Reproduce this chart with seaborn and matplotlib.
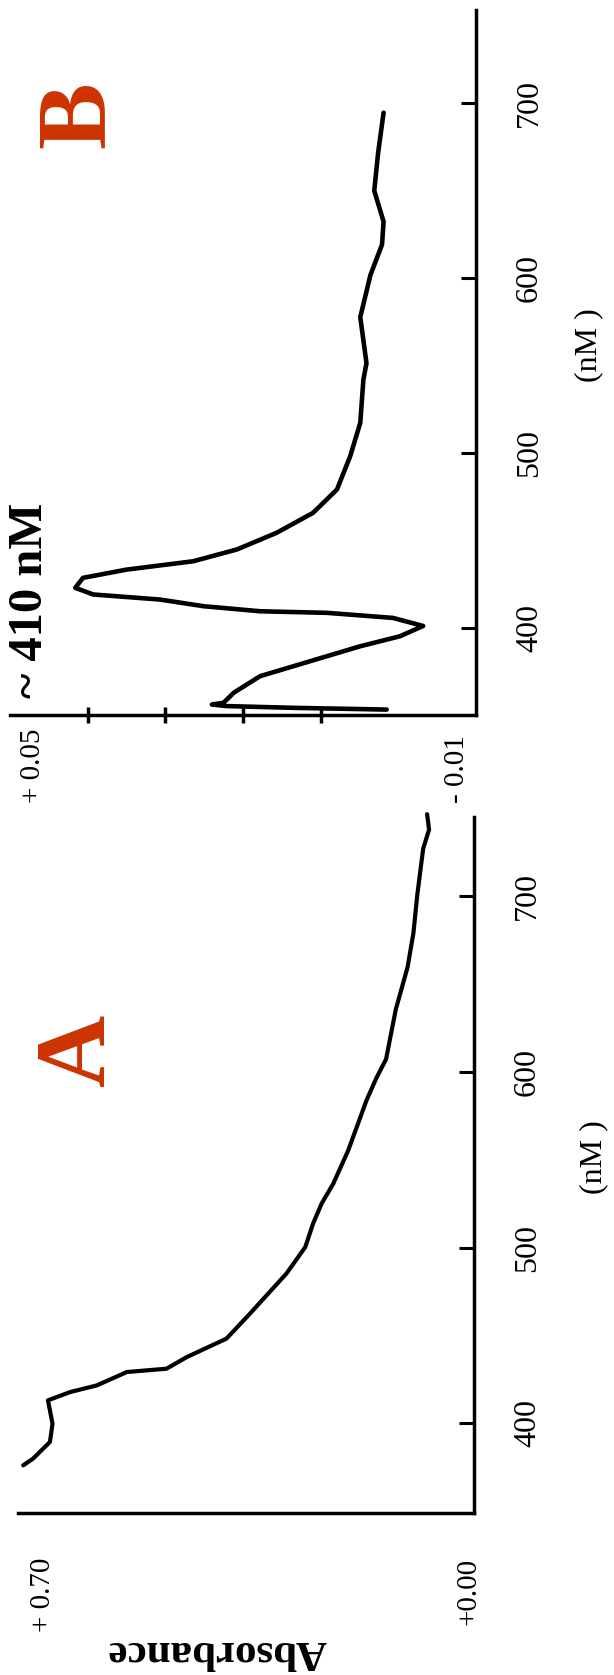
import matplotlib
matplotlib.use('Agg')  # no display

import pandas as pd
import matplotlib.pyplot as plt
import seaborn as sns

# The figure is drawn turned a quarter turn: wavelength runs up the page,
# absorbance runs right-to-left.

# Panel A: broad spectrum (wavelength in nm, absorbance)
wl_a = [376.1, 379.9, 389.4, 399.8, 413.1, 417.8, 421.6, 429.2, 431.1, 437.7,
        448.2, 462.4, 485.2, 500.3, 513.7, 525.0, 536.4, 555.4, 583.8, 596.4,
        607.2, 635.6, 659.5, 679.0, 700.9, 727.0, 737.8, 746.6]
abs_a = [0.692, 0.677, 0.651, 0.647, 0.654, 0.620, 0.579, 0.533, 0.472, 0.441,
         0.380, 0.344, 0.288, 0.259, 0.247, 0.234, 0.216, 0.193, 0.165, 0.150,
         0.135, 0.120, 0.102, 0.093, 0.087, 0.078, 0.069, 0.072]

# Panel B: difference spectrum with the ~410 nm band
wl_b = [694.3, 671.4, 649.7, 632.0, 618.9, 601.4, 577.4, 551.1, 541.7, 517.0,
        497.9, 478.9, 465.5, 454.1, 444.6, 437.9, 433.1, 428.4, 422.7, 418.9,
        416.0, 412.2, 409.3, 408.4, 405.5, 400.9, 395.0, 389.3, 377.9, 372.2,
        362.7, 357.0, 356.0, 355.1, 354.1, 353.1]
abs_b = [0.0019, 0.0026, 0.0031, 0.0019, 0.0021, 0.0036, 0.0049, 0.0041,
         0.0045, 0.0049, 0.0062, 0.0079, 0.0110, 0.0157, 0.0208, 0.0264,
         0.0350, 0.0406, 0.0416, 0.0393, 0.0307, 0.0251, 0.0178, 0.0092,
         0.0007, -0.0032, -0.0002, 0.0049, 0.0135, 0.0178, 0.0212, 0.0225,
         0.0240, 0.0221, 0.0135, 0.0015]

wl_ticks = [400, 500, 600, 700]
b_ticks = [0.01, 0.02, 0.03, 0.04]

sns.set_theme(style='white')
plt.rcParams['font.family'] = ['Liberation Serif', 'DejaVu Serif']
plt.rcParams.update({
    'text.color': 'black',
    'axes.labelcolor': 'black',
    'xtick.color': 'black',
    'ytick.color': 'black',
})

RED = '#cc3300'
W, H = 614, 1675
fig = plt.figure(figsize=(W / 100, H / 100), dpi=100, facecolor='white')


def px_axes(left, top, right, bottom):
    """Add axes given in pixel coordinates of the page."""
    return fig.add_axes([left / W, 1 - bottom / H, (right - left) / W, (bottom - top) / H])


def style_panel(ax, xlim, ylim):
    ax.set_xlim(*xlim)
    ax.set_ylim(*ylim)
    ax.set_facecolor('none')
    for side in ['top', 'left']:
        ax.spines[side].set_visible(False)
    for side in ['bottom', 'right']:
        ax.spines[side].set_visible(True)
        ax.spines[side].set_color('black')
        ax.spines[side].set_linewidth(2.5)
    ax.yaxis.tick_right()
    ax.set_yticks(wl_ticks)
    ax.set_yticklabels([str(t) for t in wl_ticks])
    ax.tick_params(axis='y', left=False, right=True, direction='in', length=11,
                   width=2.2, pad=28, labelsize=23, labelrotation=90, colors='black')
    for lbl in ax.get_yticklabels():
        lbl.set_va('center')
    ax.set_ylabel('(nM )', fontsize=23, rotation=90)
    ax.yaxis.set_label_position('right')
    ax.yaxis.label.set_va('center')


def end_label(ax, text, value, dx, dy, va):
    ax.annotate(text, xy=(value, 0), xycoords=('data', 'axes fraction'),
                xytext=(dx, dy), textcoords='offset points', rotation=90,
                ha='center', va=va, fontsize=21)


# ---- Panel A ----
ax_a = px_axes(18, 817, 474, 1513)
df_a = pd.DataFrame({'absorbance': abs_a, 'wavelength': wl_a})
sns.lineplot(data=df_a, x='absorbance', y='wavelength', sort=False, estimator=None,
             ax=ax_a, color='black', linewidth=3, clip_on=False,
             solid_capstyle='round', solid_joinstyle='round')
style_panel(ax_a, (0.70, 0.0), (349, 745))
ax_a.set_xticks([])
ax_a.yaxis.set_label_coords((594 - 18) / 456, (1513 - 1157) / 696)
ax_a.set_xlabel('Absorbance', fontsize=31, fontweight='bold', rotation=180)
ax_a.xaxis.set_label_coords(0.436, -0.198)
ax_a.xaxis.label.set_va('center')
end_label(ax_a, '+ 0.70', 0.70, 18, -32.4, 'top')
end_label(ax_a, '+0.00', 0.0, -4.3, -32.4, 'top')
ax_a.text(0.136, 0.665, 'A', transform=ax_a.transAxes, rotation=90, ha='center',
          va='center', fontsize=72, fontweight='bold', color=RED)

# ---- Panel B ----
ax_b = px_axes(10, 10, 476, 715)
df_b = pd.DataFrame({'absorbance': abs_b, 'wavelength': wl_b})
sns.lineplot(data=df_b, x='absorbance', y='wavelength', sort=False, estimator=None,
             ax=ax_b, color='black', linewidth=3.3, clip_on=False,
             solid_capstyle='round', solid_joinstyle='round')
style_panel(ax_b, (0.05, -0.01), (350, 753))
ax_b.set_xticks(b_ticks)
ax_b.set_xticklabels([])
ax_b.tick_params(axis='x', bottom=True, direction='inout', length=11.5, width=2.5,
                 colors='black')
ax_b.set_xlabel('')
ax_b.yaxis.set_label_coords((589 - 10) / 466, (715 - 345) / 705)
end_label(ax_b, '+ 0.05', 0.05, 16.6, -63.4, 'bottom')
end_label(ax_b, '- 0.01', -0.01, -13.7, -63.4, 'bottom')
ax_b.text(0.150, 0.851, 'B', transform=ax_b.transAxes, rotation=90, ha='center',
          va='center', fontsize=72, fontweight='bold', color=RED)
ax_b.text(0.042, 0.163, '~ 410 nM', transform=ax_b.transAxes, rotation=90, ha='center',
          va='center', fontsize=35, fontweight='bold', color='black')

fig.savefig('out.png', dpi=100, facecolor='white')
plt.close(fig)
